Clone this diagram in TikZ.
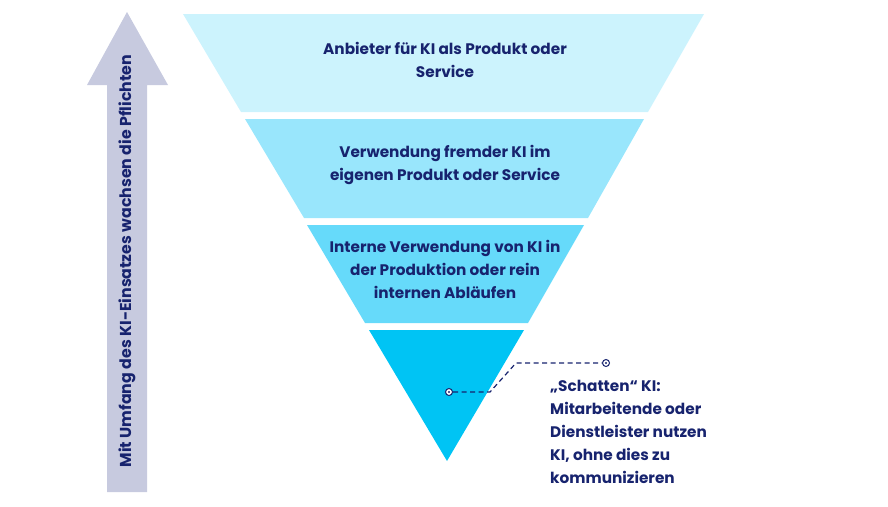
\documentclass[tikz,border=0pt]{standalone}
\usepackage{fontspec}
\setmainfont{Poppins}
\begin{document}
\begin{tikzpicture}[x=1pt,y=-1pt,
  lbl/.style={text=navy,font=\bfseries\fontsize{15.3}{23}\selectfont,align=center},
  dot/.style={circle,draw=navy,line width=1pt,inner sep=0pt,minimum size=7pt,fill=white},
  dotc/.style={circle,fill=navy,inner sep=0pt,minimum size=2.2pt}]
\definecolor{navy}{HTML}{17236E}
\definecolor{c1}{HTML}{CCF3FD}
\definecolor{c2}{HTML}{99E6FC}
\definecolor{c3}{HTML}{66DAFA}
\definecolor{c4}{HTML}{00C4F4}
\definecolor{arr}{HTML}{C7CADF}
\useasboundingbox (0,0) rectangle (888,506);
% arrow
\fill[arr] (127,12) -- (168,85) -- (147,85) -- (147,492) -- (107,492) -- (107,85) -- (87,85) -- cycle;
\node[rotate=90,text=navy,font=\bfseries\fontsize{15.8}{18}\selectfont] (at) at (127,261) {Mit Umfang des KI-Einsatzes wachsen die Pflichten};
% funnel
\fill[c1] (183,14) -- (704,14) -- (648,112) -- (241,112) -- cycle;
\fill[c2] (245,119) -- (644,119) -- (588,218) -- (304,218) -- cycle;
\fill[c3] (307,225) -- (584,225) -- (528,323) -- (365,323) -- cycle;
\fill[c4] (369,330) -- (524,330) -- (447,461) -- cycle;
\node[lbl] (t1) at (445,60) {Anbieter für KI als Produkt oder\\Service};
\node[lbl] (t2) at (445,165) {Verwendung fremder KI im\\eigenen Produkt oder Service};
\node[lbl] (t3) at (445,269) {Interne Verwendung von KI in\\der Produktion oder rein\\internen Abläufen};
% callout
\node[dot] (d1) at (449,392) {};
\node[dotc] at (d1) {};
\node[dot] (d2) at (606,363) {};
\node[dotc] at (d2) {};
\coordinate (k1) at (490,392);
\coordinate (k2) at (516,363);
\draw[navy,line width=1.2pt,dash pattern=on 5pt off 3.5pt] (d1) -- (k1) -- (k2) -- (d2);
\node[text=navy,font=\bfseries\fontsize{15.3}{23}\selectfont,align=left,anchor=north west,inner sep=0pt] (t4) at (550,380) {„Schatten“ KI:\\Mitarbeitende oder\\Dienstleister nutzen\\KI, ohne dies zu\\kommunizieren};
\end{tikzpicture}
\end{document}
